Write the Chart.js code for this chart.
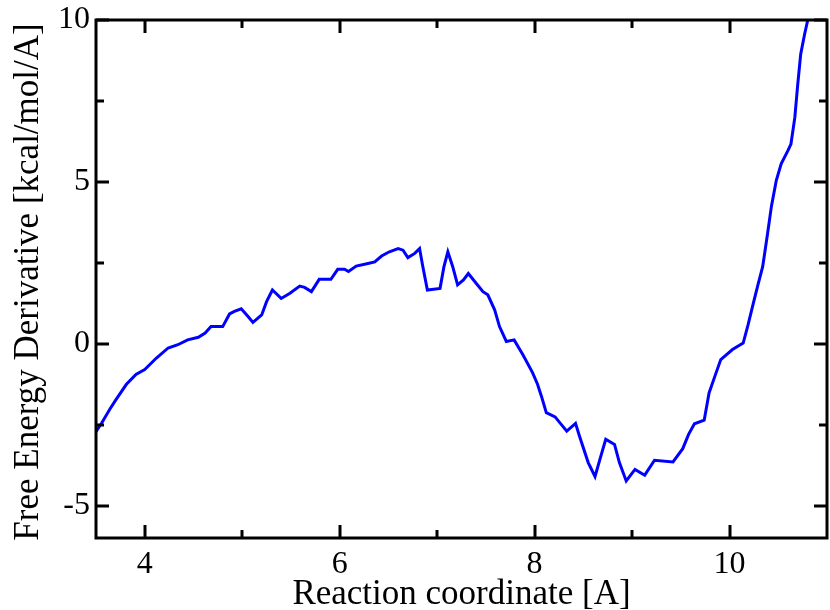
<!DOCTYPE html>
<html>
<head>
<meta charset="utf-8">
<title>Free Energy Derivative</title>
<script src="https://cdn.jsdelivr.net/npm/chart.js@4.4.1/dist/chart.umd.min.js"></script>
<style>
  html, body { margin: 0; padding: 0; background: #fff; }
  #wrap { width: 830px; height: 610px; }
</style>
</head>
<body>
<div id="wrap"><canvas id="chartDeriv"></canvas></div>
<script>
/* ---- Data ---- */
const coord = [
  3.50, 3.56, 3.64, 3.70, 3.74, 3.81, 3.91, 4.00, 4.12, 4.24,
  4.34, 4.44, 4.55, 4.62, 4.68, 4.80, 4.87, 4.92, 4.99, 5.06,
  5.11, 5.20, 5.25, 5.31, 5.40, 5.49, 5.59, 5.64, 5.71, 5.79,
  5.91, 5.98, 6.05, 6.09, 6.17, 6.29, 6.36, 6.43, 6.51, 6.60,
  6.65, 6.70, 6.77, 6.82, 6.85, 6.90, 7.03, 7.07, 7.11, 7.16,
  7.21, 7.27, 7.32, 7.40, 7.47, 7.52, 7.59, 7.64, 7.71, 7.79,
  7.88, 7.98, 8.03, 8.07, 8.12, 8.21, 8.33, 8.42, 8.46, 8.55,
  8.62, 8.67, 8.73, 8.82, 8.87, 8.94, 9.03, 9.13, 9.23, 9.42,
  9.52, 9.58, 9.64, 9.74, 9.79, 9.85, 9.91, 10.03, 10.14, 10.19,
  10.24, 10.29, 10.34, 10.39, 10.43, 10.48, 10.53, 10.60, 10.63, 10.67,
  10.70, 10.73, 10.77, 10.81,
];
const deriv = [
  -2.72, -2.44, -2.03, -1.75, -1.57, -1.26, -0.95, -0.80, -0.44, -0.13,
  -0.03, 0.12, 0.20, 0.33, 0.53, 0.53, 0.92, 1.00, 1.08, 0.84,
  0.66, 0.89, 1.30, 1.66, 1.40, 1.56, 1.78, 1.74, 1.61, 1.99,
  1.99, 2.30, 2.30, 2.23, 2.40, 2.48, 2.53, 2.71, 2.84, 2.94,
  2.89, 2.66, 2.79, 2.94, 2.43, 1.66, 1.71, 2.38, 2.84, 2.38,
  1.82, 1.97, 2.17, 1.87, 1.61, 1.51, 1.05, 0.53, 0.07, 0.12,
  -0.34, -0.90, -1.25, -1.62, -2.13, -2.26, -2.70, -2.46, -2.85, -3.67,
  -4.10, -3.57, -2.95, -3.11, -3.67, -4.24, -3.88, -4.06, -3.60, -3.65,
  -3.24, -2.80, -2.47, -2.36, -1.52, -1.00, -0.49, -0.18, 0.02, 0.58,
  1.20, 1.80, 2.38, 3.40, 4.25, 5.05, 5.56, 5.97, 6.17, 6.99,
  8.02, 8.94, 9.56, 10.10,
];

const xMajor = [4, 6, 8, 10];
const xMinor = [5, 7, 9];
const yMajor = [-5, 0, 5, 10];
const yMinor = [-2.5, 2.5, 7.5];

const xTitle = "Reaction coordinate [A]";
const yTitle = "Free Energy Derivative [kcal/mol/A]";

const SERIF = "'Liberation Serif', 'DejaVu Serif', serif";

/* ---- Frame, inward ticks on all four sides, axis titles ---- */
const framePlugin = {
  id: "frame",
  afterDraw(chart) {
    const { ctx, chartArea: a, scales } = chart;
    const major = 13, minor = 8;
    ctx.save();
    ctx.strokeStyle = "#000";
    ctx.lineWidth = 3;
    ctx.lineCap = "butt";

    const tickX = (vals, len) => {
      vals.forEach((v) => {
        const px = Math.round(scales.x.getPixelForValue(v));
        ctx.beginPath();
        ctx.moveTo(px, a.bottom);
        ctx.lineTo(px, a.bottom - len);
        ctx.moveTo(px, a.top);
        ctx.lineTo(px, a.top + len);
        ctx.stroke();
      });
    };
    const tickY = (vals, len) => {
      vals.forEach((v) => {
        const py = Math.round(scales.y.getPixelForValue(v));
        ctx.beginPath();
        ctx.moveTo(a.left, py);
        ctx.lineTo(a.left + len, py);
        ctx.moveTo(a.right, py);
        ctx.lineTo(a.right - len, py);
        ctx.stroke();
      });
    };
    tickX(xMajor, major);
    tickX(xMinor, minor);
    tickY(yMajor, major);
    tickY(yMinor, minor);

    ctx.strokeRect(a.left, a.top, a.right - a.left, a.bottom - a.top);

    // axis titles
    ctx.fillStyle = "#000";
    ctx.font = `35px ${SERIF}`;
    ctx.textAlign = "center";
    ctx.textBaseline = "alphabetic";
    ctx.fillText(xTitle, (a.left + a.right) / 2, 604);

    ctx.translate(38, 282);
    ctx.rotate(-Math.PI / 2);
    ctx.fillText(yTitle, 0, 0);
    ctx.restore();
  },
};

/* ---- Chart ---- */
function initDerivChart() {
  const ctx = document.getElementById("chartDeriv");
  if (!ctx) return;

  const points = coord.map((x, i) => ({ x, y: deriv[i] }));

  new Chart(ctx, {
    type: "line",
    data: {
      datasets: [
        {
          data: points,
          borderColor: "#0000ff",
          borderWidth: 3,
          pointRadius: 0,
          tension: 0,
          fill: false,
        },
      ],
    },
    options: {
      responsive: true,
      maintainAspectRatio: false,
      animation: false,
      layout: { padding: { top: 20, right: 3, left: 0, bottom: 0 } },
      plugins: {
        legend: { display: false },
        tooltip: { enabled: false },
      },
      scales: {
        x: {
          type: "linear",
          min: 3.5,
          max: 11,
          grid: { display: false, drawTicks: false },
          border: { display: false },
          afterBuildTicks: (s) => {
            s.ticks = xMajor.map((value) => ({ value }));
          },
          afterFit: (s) => {
            s.height = 72;
            s.paddingLeft = 0;
            s.paddingRight = 0;
          },
          ticks: {
            color: "#000",
            padding: 7,
            maxRotation: 0,
            font: { family: SERIF, size: 32 },
            callback: (v) => String(v),
          },
        },
        y: {
          type: "linear",
          min: -6,
          max: 10,
          grid: { display: false, drawTicks: false },
          border: { display: false },
          afterBuildTicks: (s) => {
            s.ticks = yMajor.map((value) => ({ value }));
          },
          afterFit: (s) => {
            s.width = 96;
            s.paddingTop = 0;
            s.paddingBottom = 0;
          },
          ticks: {
            color: "#000",
            padding: 6,
            font: { family: SERIF, size: 32 },
            callback: (v) => String(v),
          },
        },
      },
    },
    plugins: [framePlugin],
  });
}

document.addEventListener("DOMContentLoaded", initDerivChart);
</script>
</body>
</html>
